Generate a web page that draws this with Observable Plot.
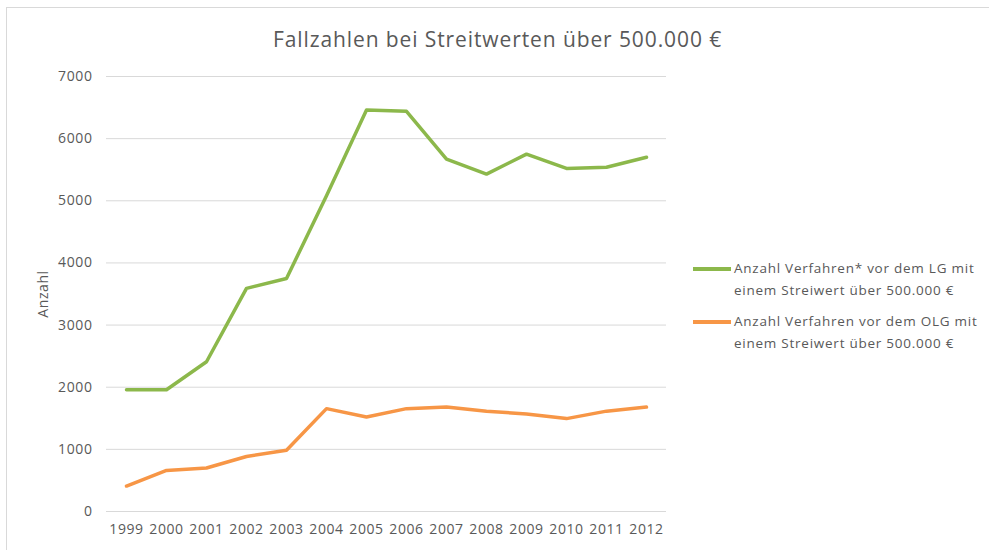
<!DOCTYPE html>
<html>
<head>
<meta charset="utf-8">
<script src="https://cdn.jsdelivr.net/npm/d3@7"></script>
<script src="https://cdn.jsdelivr.net/npm/@observablehq/plot@0.6"></script>
<style>
  html, body { margin: 0; padding: 0; background: #fff; }
  #wrap { position: relative; width: 989px; height: 550px; overflow: hidden; font-family: "Open Sans", sans-serif; }
  #frame { position: absolute; left: 6px; top: 7px; width: 1000px; height: 600px; border-top: 1px solid #d9d9d9; border-left: 1px solid #d9d9d9; box-sizing: border-box; }
  #title { position: absolute; left: 0; width: 995px; top: 25px; text-align: center; font-size: 21px; letter-spacing: 0.9px; color: #595959; white-space: nowrap; }
  #chart { position: absolute; left: 0; top: 0; }
  .leg { position: absolute; left: 693px; font-size: 13.5px; letter-spacing: 0.75px; color: #595959; line-height: 22px; }
  .leg .sw { position: absolute; left: 0; top: 10px; width: 38px; height: 3.5px; }
  .leg .tx { position: absolute; left: 41px; top: 0; white-space: nowrap; }
  #chart svg text { letter-spacing: 0.6px; }
</style>
</head>
<body>
<div id="wrap">
  <div id="frame"></div>
  <div id="chart"></div>
  <div id="title">Fallzahlen bei Streitwerten über 500.000 €</div>
</div>
<script>
const years = ["1999","2000","2001","2002","2003","2004","2005","2006","2007","2008","2009","2010","2011","2012"];
const lgValues = [1960, 1960, 2410, 3590, 3750, 5080, 6460, 6440, 5670, 5430, 5750, 5520, 5540, 5700];
const olgValues = [410, 660, 700, 885, 985, 1655, 1520, 1655, 1680, 1615, 1570, 1495, 1615, 1680];
const seriesNames = [
  "Anzahl Verfahren* vor dem LG mit einem Streiwert über 500.000 €",
  "Anzahl Verfahren vor dem OLG mit einem Streiwert über 500.000 €"
];
const legendLines = [
  ["Anzahl Verfahren* vor dem LG mit", "einem Streiwert über 500.000 €"],
  ["Anzahl Verfahren vor dem OLG mit", "einem Streiwert über 500.000 €"]
];
const colors = ["#8cb84b", "#f79646"];
const yTicks = [0, 1000, 2000, 3000, 4000, 5000, 6000, 7000];

const data = [];
years.forEach((y, i) => data.push({year: y, value: lgValues[i], series: seriesNames[0]}));
years.forEach((y, i) => data.push({year: y, value: olgValues[i], series: seriesNames[1]}));

const plot = Plot.plot({
  width: 989,
  height: 550,
  marginLeft: 106,
  marginRight: 323,
  marginTop: 76,
  marginBottom: 39,
  style: {fontFamily: "Open Sans, sans-serif", fontSize: "14px", color: "#595959", background: "transparent"},
  x: {type: "point", domain: years, padding: 0.5},
  y: {domain: [0, 7000]},
  color: {domain: seriesNames, range: colors},
  marks: [
    Plot.gridY(yTicks, {stroke: "#d9d9d9", strokeOpacity: 1, strokeWidth: 1}),
    Plot.axisY(yTicks, {tickSize: 0, tickPadding: 14, tickFormat: d => String(d), label: "Anzahl", labelAnchor: "center", labelArrow: "none", labelOffset: 68, fill: "#595959"}),
    Plot.axisX({tickSize: 0, tickPadding: 13, label: null, fill: "#595959"}),
    Plot.line(data, {x: "year", y: "value", z: "series", stroke: "series", strokeWidth: 3.5, strokeLinejoin: "round", strokeLinecap: "round"})
  ]
});
document.getElementById("chart").appendChild(plot);

const wrap = document.getElementById("wrap");
const tops = [257, 310];
legendLines.forEach((lines, i) => {
  const d = document.createElement("div");
  d.className = "leg";
  d.style.top = tops[i] + "px";
  const sw = document.createElement("div");
  sw.className = "sw";
  sw.style.background = colors[i];
  d.appendChild(sw);
  const tx = document.createElement("div");
  tx.className = "tx";
  tx.innerHTML = lines.join("<br>");
  d.appendChild(tx);
  wrap.appendChild(d);
});
</script>
</body>
</html>
